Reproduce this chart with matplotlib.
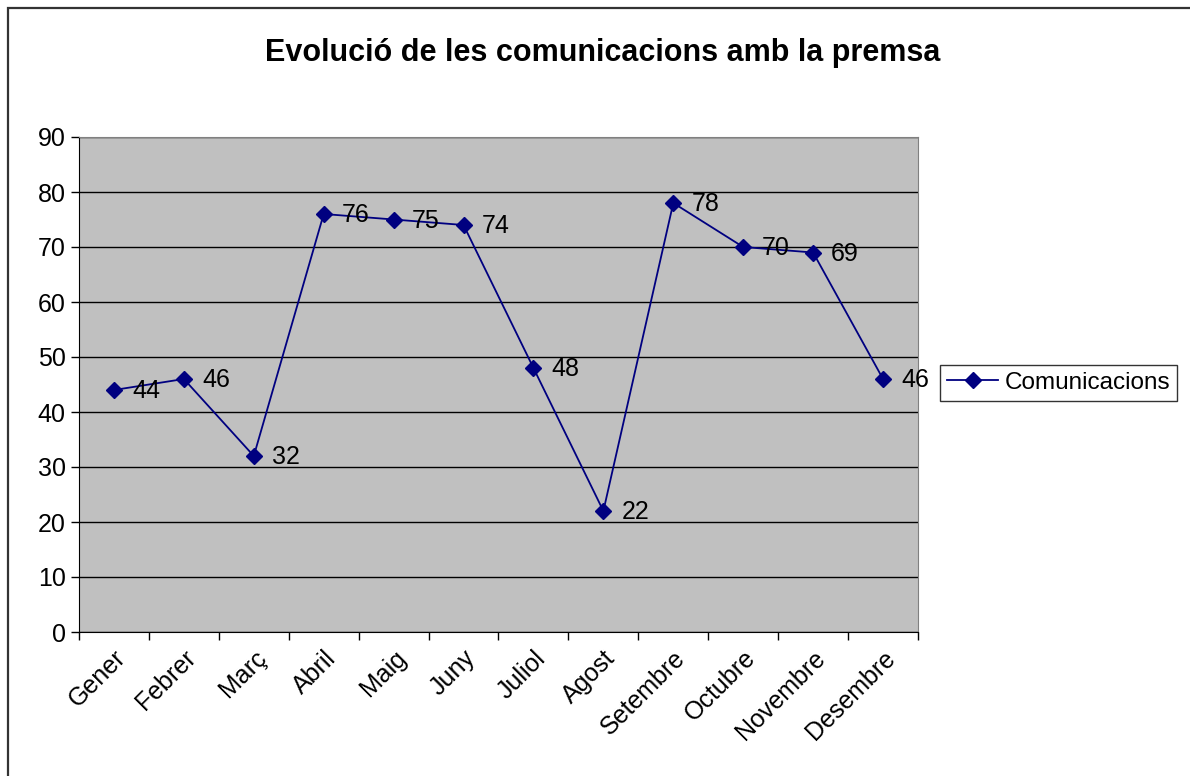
import numpy as np
import matplotlib.pyplot as plt
from matplotlib.patches import Rectangle

mesos = ["Gener", "Febrer", "Març", "Abril", "Maig", "Juny", "Juliol",
         "Agost", "Setembre", "Octubre", "Novembre", "Desembre"]
comunicacions = [44, 46, 32, 76, 75, 74, 48, 22, 78, 70, 69, 46]
y_ticks = [0, 10, 20, 30, 40, 50, 60, 70, 80, 90]

plt.rcParams['font.family'] = ['Liberation Sans', 'DejaVu Sans']

fig = plt.figure(figsize=(11.9, 7.76), dpi=100)

# marc exterior del grafic
fig.patches.append(Rectangle((8 / 1190, -0.1), 1.2, 1 - 8 / 776 + 0.1,
                             transform=fig.transFigure, fill=False,
                             edgecolor="#333333", linewidth=1.6, zorder=0))

ax = fig.add_axes([79 / 1190, 1 - 632 / 776, 839 / 1190, 495 / 776])
ax.set_facecolor("#C0C0C0")

x = np.arange(len(mesos))
ax.plot(x, comunicacions, color="#000080", linewidth=1.3, marker="D",
        markersize=8, label="Comunicacions", zorder=3)

for xi, v in zip(x, comunicacions):
    ax.annotate(str(v), (xi, v), xytext=(13, -1), textcoords="offset points",
                ha="left", va="center", fontsize=18, zorder=4)

ax.set_xlim(-0.5, len(mesos) - 0.5)
ax.set_ylim(0, 90)
ax.set_yticks(y_ticks)
ax.tick_params(axis="y", labelsize=18, length=6, width=1, direction="out")
ax.yaxis.grid(True, color="black", linewidth=1)
ax.set_axisbelow(True)

ax.set_xticks(np.arange(-0.5, len(mesos)), labels=[""] * (len(mesos) + 1))
ax.set_xticks(x, labels=mesos, minor=True)
ax.tick_params(axis="x", which="major", length=6, width=1, direction="out")
ax.tick_params(axis="x", which="minor", length=0, labelsize=18, pad=10)
for lab in ax.get_xticklabels(minor=True):
    lab.set_rotation(45)
    lab.set_ha("right")
    lab.set_rotation_mode("anchor")

ax.spines["left"].set_color("black")
ax.spines["bottom"].set_color("black")
ax.spines["top"].set_color("#808080")
ax.spines["right"].set_color("#808080")

fig.text(603 / 1190, 1 - 53 / 776, "Evolució de les comunicacions amb la premsa",
         ha="center", va="center", fontsize=22, fontweight="bold")

leg = fig.legend(loc="center left", bbox_to_anchor=(940 / 1190, 1 - 383 / 776),
                 fontsize=17.5, frameon=True, fancybox=False, handlelength=2.1,
                 borderpad=0.3, handletextpad=0.25, borderaxespad=0)
leg.get_frame().set_edgecolor("black")
leg.get_frame().set_linewidth(1)

fig.savefig("out.png", dpi=100)
